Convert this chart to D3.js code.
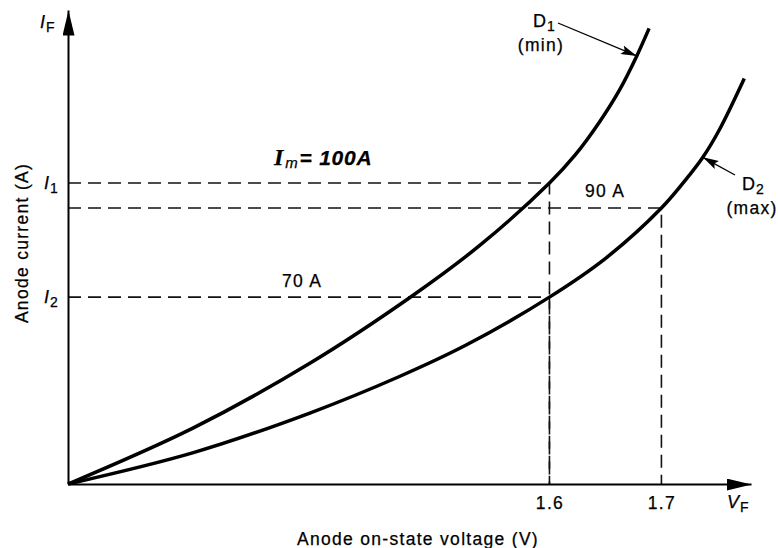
<!DOCTYPE html>
<html>

<head>
  <title>Anode current vs on-state voltage</title>
  <script src="https://cdn.jsdelivr.net/npm/d3@7"></script>
  <style>
    body {
      margin: 0;
      background: #fff;
      font-family: "Liberation Sans", Arial, sans-serif;
    }

    text {
      fill: #000;
      font-size: 17.5px;
      letter-spacing: 1.3px;
      stroke: #000;
      stroke-width: 0.25px;
    }

    .curve {
      fill: none;
      stroke: #000;
      stroke-width: 3.5px;
    }

    .guide {
      fill: none;
      stroke: #111;
      stroke-width: 1.6px;
      stroke-dasharray: 13 7;
    }

    .axis path {
      stroke: #000;
      stroke-width: 2px;
    }
  </style>
</head>

<body>
  <div id="chart"></div>
  <script>
    // curve D1 (min) and D2 (max), volts / amps
    const d1V = [1.170, 1.282, 1.386, 1.477, 1.538, 1.600, 1.623, 1.645, 1.663, 1.678, 1.689];
    const d1I = [0, 18.6, 40.0, 62.2, 79.1, 99.7, 109.0, 120.1, 130.8, 141.8, 150.9];
    const d2V = [1.170, 1.282, 1.386, 1.466, 1.526, 1.600, 1.651, 1.700, 1.725, 1.737, 1.752, 1.774];
    const d2I = [0, 10.4, 23.5, 35.6, 46.1, 61.9, 75.0, 91.4, 102.3, 108.2, 117.5, 134.3];

    // dashed guide lines: current level and the voltage where it meets a curve
    const guideI = [99.7, 91.4, 61.9];
    const guideV = [1.6, 1.7, 1.6];

    const xTicks = [1.6, 1.7];
    const yTickI = [99.7, 61.9];
    const yTickSub = ["1", "2"];

    const width = 778;
    const height = 548;

    const x = d3.scaleLinear().domain([1.17, 1.78]).range([68, 751]);
    const y = d3.scaleLinear().domain([0, 157]).range([484, 10]);

    const svg = d3.select("#chart").append("svg")
      .attr("width", width)
      .attr("height", height);

    const defs = svg.append("defs");
    defs.append("marker")
      .attr("id", "axisHead")
      .attr("markerUnits", "userSpaceOnUse")
      .attr("viewBox", "0 0 25 12")
      .attr("refX", 25).attr("refY", 6)
      .attr("markerWidth", 25).attr("markerHeight", 12)
      .attr("orient", "auto")
      .append("path")
      .attr("d", "M0,0L25,6L0,12Z")
      .attr("fill", "#000");
    defs.append("marker")
      .attr("id", "noteHead")
      .attr("markerUnits", "userSpaceOnUse")
      .attr("viewBox", "0 0 16 9")
      .attr("refX", 16).attr("refY", 4.5)
      .attr("markerWidth", 16).attr("markerHeight", 9)
      .attr("orient", "auto")
      .append("path")
      .attr("d", "M0,0L16,4.5L0,9L3,4.5Z")
      .attr("fill", "#000");

    // guides
    const guides = guideI.map((c, i) => ({ c, v: guideV[i] }));
    svg.append("g").selectAll("path")
      .data(guides)
      .enter().append("path")
      .attr("class", "guide")
      .attr("d", d => `M${x.range()[0]},${y(d.c)}H${x(d.v)}V${y(0)}`);

    // axes
    const xAxis = svg.append("g")
      .attr("class", "axis")
      .attr("transform", `translate(0,${y(0)})`)
      .call(d3.axisBottom(x).tickValues(xTicks).tickSize(0).tickSizeOuter(0).tickPadding(13).tickFormat(d3.format(".1f")));
    xAxis.select(".domain").attr("marker-end", "url(#axisHead)");
    xAxis.selectAll(".tick text")
      .style("font-size", "17.5px")
      .style("font-family", "'Liberation Sans', Arial, sans-serif")
      .attr("fill", "#000");

    const yAxis = svg.append("g")
      .attr("class", "axis")
      .attr("transform", `translate(${x.range()[0]},0)`)
      .call(d3.axisLeft(y).tickValues([]).tickSizeOuter(0));
    yAxis.select(".domain").attr("marker-end", "url(#axisHead)");

    // curves
    const line = d3.line()
      .x(d => x(d[0]))
      .y(d => y(d[1]))
      .curve(d3.curveCatmullRom.alpha(0.5));
    const curves = [d3.zip(d1V, d1I), d3.zip(d2V, d2I)];
    svg.append("g").selectAll("path")
      .data(curves)
      .enter().append("path")
      .attr("class", "curve")
      .attr("d", line);

    // subscripted symbol helper
    function symbol(px, py, main, sub, size, italic) {
      const t = svg.append("text")
        .attr("x", px).attr("y", py)
        .style("font-size", size + "px")
        .style("letter-spacing", "0px");
      t.append("tspan").text(main).style("font-style", italic ? "italic" : "normal");
      t.append("tspan").attr("dy", 4).attr("dx", 1).text(sub)
        .style("font-size", (size - 4) + "px");
      return t;
    }

    symbol(40, 28, "I", "F", 18, true);
    yTickI.forEach((c, i) => symbol(44, y(c) + 6, "I", yTickSub[i], 18, true));
    symbol(727, 508, "V", "F", 18, true);

    // axis titles
    svg.append("text")
      .attr("transform", "translate(28,243) rotate(-90)")
      .attr("text-anchor", "middle")
      .text("Anode current (A)");
    svg.append("text")
      .attr("x", 418).attr("y", 545)
      .attr("text-anchor", "middle")
      .text("Anode on-state voltage (V)");

    // annotations
    const im = svg.append("text")
      .attr("x", 274).attr("y", 165)
      .style("font-size", "21px")
      .style("font-weight", "bold")
      .style("font-style", "italic")
      .style("letter-spacing", "0.8px");
    im.append("tspan").text("I")
      .style("font-family", "'Liberation Serif', serif")
      .style("font-size", "24px");
    im.append("tspan").attr("dy", 3).attr("dx", 1).text("m")
      .style("font-weight", "normal")
      .style("font-size", "15px");
    im.append("tspan").attr("dy", -3).attr("dx", 1).text("= 100A");

    svg.append("text").attr("x", 282).attr("y", 287).text("70 A");
    svg.append("text").attr("x", 585).attr("y", 197).text("90 A");

    symbol(533, 27, "D", "1", 18, false);
    svg.append("text").attr("x", 541).attr("y", 51)
      .attr("text-anchor", "middle").text("(min)");
    symbol(742, 190, "D", "2", 18, false);
    svg.append("text").attr("x", 752).attr("y", 214)
      .attr("text-anchor", "middle").text("(max)");

    const notes = [
      { from: [558, 23], v: 1.678, c: 141.8 },
      { from: [735, 175], v: 1.737, c: 108.2 }
    ];
    svg.append("g").selectAll("line")
      .data(notes)
      .enter().append("line")
      .attr("x1", d => d.from[0]).attr("y1", d => d.from[1])
      .attr("x2", d => x(d.v)).attr("y2", d => y(d.c))
      .attr("stroke", "#000")
      .attr("stroke-width", 1.3)
      .attr("marker-end", "url(#noteHead)");
  </script>
</body>

</html>
